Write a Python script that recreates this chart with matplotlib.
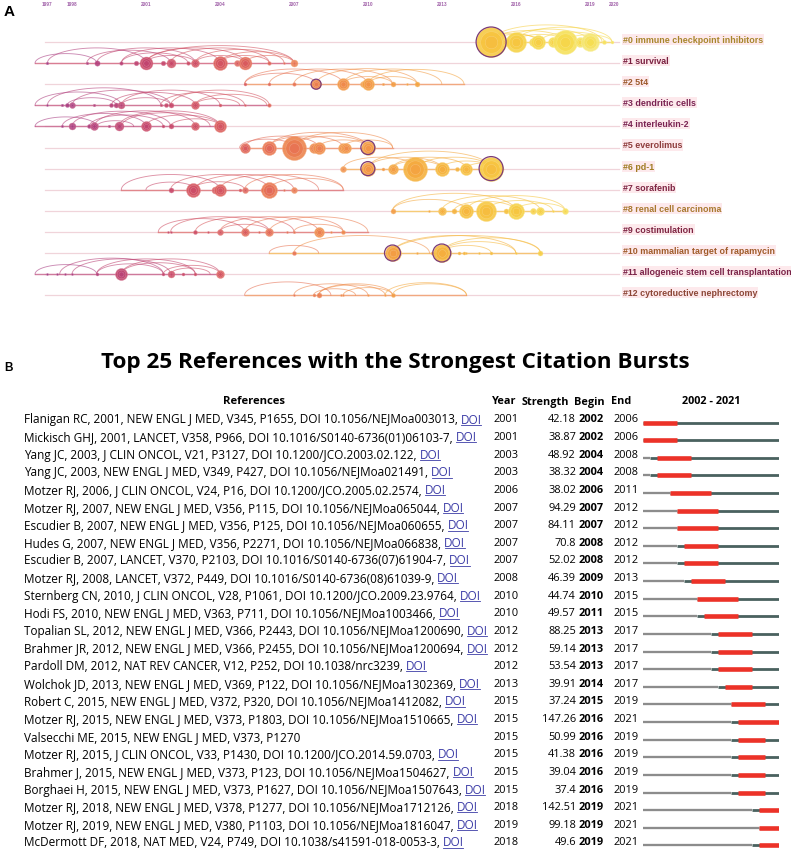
import numpy as np
import matplotlib
matplotlib.use("Agg")
import matplotlib.pyplot as plt
from matplotlib import font_manager
from matplotlib.colors import LinearSegmentedColormap, to_rgb

# ---------------- Panel A data ----------------
timeline_ticks = [1997, 1998, 2001, 2004, 2007, 2010, 2013, 2016, 2019, 2020]
cluster_labels = ["#0 immune checkpoint inhibitors", "#1 survival", "#2 5t4",
                  "#3 dendritic cells", "#4 interleukin-2", "#5 everolimus", "#6 pd-1",
                  "#7 sorafenib", "#8 renal cell carcinoma", "#9 costimulation",
                  "#10 mammalian target of rapamycin",
                  "#11 allogeneic stem cell transplantation",
                  "#12 cytoreductive nephrectomy"]
label_colors = ["#a8862c", "#7a2040", "#9c5a2c", "#7a2352", "#7a2352", "#8e3c3c",
                "#a07c22", "#7e2442", "#a8782e", "#7e2442", "#a05c2a", "#7a2348", "#8c4636"]

# nodes: (year position, radius in px)
c0_nodes = [(2015.0, 15), (2015.6, 4), (2016.0, 10), (2016.7, 4), (2016.9, 7), (2017.5, 5),
            (2018.0, 12), (2018.6, 5), (2019.0, 9), (2019.6, 2), (2019.9, 1.5)]
c1_nodes = [(1997.0, 1.3), (1998.6, 1.3), (1999.0, 2.7), (2000.0, 1.8), (2000.6, 2.3),
            (2001.0, 6.5), (2001.7, 2.3), (2002.0, 4.5), (2002.7, 1.8), (2003.0, 4.0),
            (2004.0, 7.0), (2004.7, 3.0), (2005.0, 6.5), (2006.0, 1.8), (2006.6, 1.0), (2007.0, 3.5)]
c2_nodes = [(2005.0, 1.5), (2006.0, 1.5), (2007.0, 1.8), (2007.9, 5.0), (2009.0, 6.0),
            (2009.8, 3.0), (2010.0, 6.0), (2010.6, 1.2), (2011.0, 2.5), (2011.6, 1.0), (2012.0, 2.5)]
c3_nodes = [(1997.0, 1.0), (1997.6, 1.3), (1997.8, 2.0), (1998.0, 3.0), (1998.9, 1.3),
            (1999.6, 2.0), (1999.8, 2.5), (2000.0, 3.5), (2001.6, 1.3), (2001.8, 2.0),
            (2002.0, 2.5), (2003.0, 4.0), (2004.0, 1.5), (2005.0, 1.0), (2006.0, 1.8)]
c4_nodes = [(1997.6, 1.2), (1998.0, 3.5), (1998.7, 2.0), (1998.9, 4.0), (1999.5, 1.3),
            (1999.9, 4.5), (2001.0, 5.0), (2001.7, 1.5), (2002.0, 2.5), (2003.0, 4.0), (2004.0, 6.0)]
c5_nodes = [(2005.0, 5.0), (2006.0, 7.0), (2007.0, 12.0), (2007.8, 5.0), (2008.0, 6.0),
            (2009.0, 5.0), (2009.1, 5.0), (2010.0, 7.0)]
c6_nodes = [(2009.0, 3.0), (2010.0, 7.0), (2010.6, 1.5), (2011.0, 5.0), (2011.9, 12.0),
            (2013.0, 7.0), (2013.6, 2.0), (2014.0, 6.0), (2015.0, 12.0)]
c7_nodes = [(2002.0, 2.5), (2002.9, 7.0), (2003.8, 3.5), (2004.0, 6.0), (2004.8, 1.5),
            (2005.0, 3.0), (2005.7, 1.5), (2006.0, 8.0), (2006.6, 1.0), (2007.0, 3.0)]
c8_nodes = [(2011.0, 2.5), (2012.5, 1.0), (2013.0, 4.0), (2013.5, 2.5), (2014.0, 7.0),
            (2014.8, 10.0), (2015.6, 2.5), (2016.0, 8.0), (2016.7, 3.0), (2017.0, 4.0),
            (2017.5, 1.0), (2018.0, 3.0)]
c9_nodes = [(2001.9, 1.0), (2002.0, 1.0), (2003.0, 2.0), (2003.5, 1.0), (2004.0, 3.0),
            (2005.0, 4.0), (2005.6, 1.0), (2006.0, 4.0), (2006.7, 1.0), (2007.0, 1.2),
            (2008.0, 5.0), (2008.5, 1.0), (2009.0, 2.0)]
c10_nodes = [(2007.0, 2.0), (2011.0, 8.0), (2012.0, 1.0), (2012.6, 1.5), (2013.0, 9.0),
             (2013.7, 1.5), (2013.9, 1.5), (2014.0, 1.0), (2014.5, 1.0), (2015.0, 1.5),
             (2016.0, 1.0), (2017.0, 2.5)]
c11_nodes = [(1997.0, 1.0), (1997.4, 1.0), (1997.7, 1.0), (1998.0, 1.0), (1999.0, 1.5),
             (2000.0, 6.0), (2001.7, 1.5), (2002.0, 3.5), (2002.5, 1.5), (2003.0, 1.5), (2004.0, 4.0)]
c12_nodes = [(2007.0, 1.0), (2007.8, 1.5), (2008.0, 2.5), (2008.9, 1.0), (2009.0, 1.0),
             (2010.0, 1.0), (2010.7, 1.0), (2011.0, 2.0)]

# nodes with high betweenness (purple ring): (cluster, year)
hub_nodes = [(0, 2015.0), (2, 2007.9), (5, 2010.0), (6, 2010.0), (6, 2015.0), (10, 2011.0), (10, 2013.0)]

# co-citation arcs: (from year, to year)
c0_arcs = [(2015.0, 2019.5), (2015.0, 2018.0), (2015.6, 2019.0), (2016.0, 2019.9), (2016.0, 2018.0),
           (2015.0, 2017.0), (2017.0, 2019.6), (2018.0, 2019.9), (2014.6, 2016.9)]
c1_arcs = [(1996.5, 1999.0), (1997.0, 2001.0), (1998.6, 2002.0), (1999.0, 2003.0), (2000.0, 2004.0),
           (2001.0, 2005.0), (2001.0, 2007.0), (2002.0, 2006.0), (2003.0, 2006.6), (2004.0, 2007.0),
           (2001.0, 2003.0), (2003.0, 2005.0), (2000.0, 2002.7), (2004.0, 2006.0), (2005.0, 2007.0)]
c2_arcs = [(2005.0, 2009.0), (2006.0, 2010.0), (2007.0, 2011.0), (2007.9, 2012.0), (2009.0, 2013.0),
           (2010.0, 2013.9), (2005.0, 2007.9), (2009.0, 2011.0), (2010.0, 2012.0)]
c3_arcs = [(1996.5, 2000.0), (1997.0, 2001.6), (1998.0, 2002.0), (1999.6, 2003.0), (2000.0, 2004.0),
           (2001.6, 2005.0), (2002.0, 2006.0), (2003.0, 2005.9), (1997.8, 1999.8), (2000.0, 2002.0),
           (2003.0, 2004.8)]
c4_arcs = [(1996.5, 1999.0), (1997.6, 2001.0), (1998.0, 2002.0), (1998.9, 2003.0), (1999.9, 2004.0),
           (2001.0, 2004.0), (1998.7, 2001.7), (2000.0, 2003.6), (1999.0, 2000.5), (2002.0, 2004.0)]
c5_arcs = [(2005.0, 2008.0), (2006.0, 2010.0), (2007.0, 2010.0), (2007.0, 2011.0), (2008.0, 2010.0),
           (2006.0, 2009.0), (2004.8, 2007.0), (2009.0, 2011.0)]
c6_arcs = [(2009.0, 2012.0), (2010.0, 2013.0), (2010.0, 2015.0), (2011.0, 2014.0), (2012.0, 2015.0),
           (2013.0, 2015.0), (2011.0, 2013.0), (2014.0, 2015.5)]
c7_arcs = [(2000.0, 2004.0), (2002.0, 2006.0), (2003.0, 2007.0), (2004.0, 2008.0), (2005.0, 2009.0),
           (2002.9, 2005.0), (2006.0, 2009.0), (2001.0, 2003.0)]
c8_arcs = [(2011.0, 2016.0), (2013.0, 2017.0), (2014.0, 2018.0), (2014.8, 2017.5), (2016.0, 2018.0),
           (2013.5, 2016.0), (2011.0, 2014.0)]
c9_arcs = [(2002.0, 2006.0), (2003.0, 2007.0), (2004.0, 2008.0), (2005.0, 2009.0), (2006.0, 2010.0),
           (2007.0, 2009.0), (2004.0, 2006.0), (2001.5, 2005.0)]
c10_arcs = [(2006.0, 2008.0), (2007.0, 2012.5), (2011.0, 2017.0), (2011.0, 2016.0), (2013.0, 2016.0),
            (2013.0, 2015.0), (2013.0, 2017.0)]
c11_arcs = [(1996.5, 1999.0), (1997.5, 2001.7), (1998.0, 2002.0), (1999.0, 2003.0), (2000.0, 2003.0),
            (2000.0, 2004.0), (1999.0, 2001.7), (2001.7, 2004.0), (2002.0, 2003.6)]
c12_arcs = [(2005.0, 2008.5), (2007.0, 2010.0), (2008.0, 2010.7), (2008.0, 2011.0), (2009.0, 2011.0),
            (2010.7, 2014.0), (2011.0, 2014.0), (2007.8, 2009.5)]

all_nodes = [c0_nodes, c1_nodes, c2_nodes, c3_nodes, c4_nodes, c5_nodes, c6_nodes,
             c7_nodes, c8_nodes, c9_nodes, c10_nodes, c11_nodes, c12_nodes]
all_arcs = [c0_arcs, c1_arcs, c2_arcs, c3_arcs, c4_arcs, c5_arcs, c6_arcs,
            c7_arcs, c8_arcs, c9_arcs, c10_arcs, c11_arcs, c12_arcs]

# ---------------- Panel B data ----------------
refs = [
    "Flanigan RC, 2001, NEW ENGL J MED, V345, P1655, DOI 10.1056/NEJMoa003013",
    "Mickisch GHJ, 2001, LANCET, V358, P966, DOI 10.1016/S0140-6736(01)06103-7",
    "Yang JC, 2003, J CLIN ONCOL, V21, P3127, DOI 10.1200/JCO.2003.02.122",
    "Yang JC, 2003, NEW ENGL J MED, V349, P427, DOI 10.1056/NEJMoa021491",
    "Motzer RJ, 2006, J CLIN ONCOL, V24, P16, DOI 10.1200/JCO.2005.02.2574",
    "Motzer RJ, 2007, NEW ENGL J MED, V356, P115, DOI 10.1056/NEJMoa065044",
    "Escudier B, 2007, NEW ENGL J MED, V356, P125, DOI 10.1056/NEJMoa060655",
    "Hudes G, 2007, NEW ENGL J MED, V356, P2271, DOI 10.1056/NEJMoa066838",
    "Escudier B, 2007, LANCET, V370, P2103, DOI 10.1016/S0140-6736(07)61904-7",
    "Motzer RJ, 2008, LANCET, V372, P449, DOI 10.1016/S0140-6736(08)61039-9",
    "Sternberg CN, 2010, J CLIN ONCOL, V28, P1061, DOI 10.1200/JCO.2009.23.9764",
    "Hodi FS, 2010, NEW ENGL J MED, V363, P711, DOI 10.1056/NEJMoa1003466",
    "Topalian SL, 2012, NEW ENGL J MED, V366, P2443, DOI 10.1056/NEJMoa1200690",
    "Brahmer JR, 2012, NEW ENGL J MED, V366, P2455, DOI 10.1056/NEJMoa1200694",
    "Pardoll DM, 2012, NAT REV CANCER, V12, P252, DOI 10.1038/nrc3239",
    "Wolchok JD, 2013, NEW ENGL J MED, V369, P122, DOI 10.1056/NEJMoa1302369",
    "Robert C, 2015, NEW ENGL J MED, V372, P320, DOI 10.1056/NEJMoa1412082",
    "Motzer RJ, 2015, NEW ENGL J MED, V373, P1803, DOI 10.1056/NEJMoa1510665",
    "Valsecchi ME, 2015, NEW ENGL J MED, V373, P1270",
    "Motzer RJ, 2015, J CLIN ONCOL, V33, P1430, DOI 10.1200/JCO.2014.59.0703",
    "Brahmer J, 2015, NEW ENGL J MED, V373, P123, DOI 10.1056/NEJMoa1504627",
    "Borghaei H, 2015, NEW ENGL J MED, V373, P1627, DOI 10.1056/NEJMoa1507643",
    "Motzer RJ, 2018, NEW ENGL J MED, V378, P1277, DOI 10.1056/NEJMoa1712126",
    "Motzer RJ, 2019, NEW ENGL J MED, V380, P1103, DOI 10.1056/NEJMoa1816047",
    "McDermott DF, 2018, NAT MED, V24, P749, DOI 10.1038/s41591-018-0053-3",
]
has_doi = [True] * 18 + [False] + [True] * 6
ref_years = [2001, 2001, 2003, 2003, 2006, 2007, 2007, 2007, 2007, 2008, 2010, 2010, 2012,
             2012, 2012, 2013, 2015, 2015, 2015, 2015, 2015, 2015, 2018, 2019, 2018]
strengths = ["42.18", "38.87", "48.92", "38.32", "38.02", "94.29", "84.11", "70.8", "52.02",
             "46.39", "44.74", "49.57", "88.25", "59.14", "53.54", "39.91", "37.24", "147.26",
             "50.99", "41.38", "39.04", "37.4", "142.51", "99.18", "49.6"]
begins = [2002, 2002, 2004, 2004, 2006, 2007, 2007, 2008, 2008, 2009, 2010, 2011, 2013,
          2013, 2013, 2014, 2015, 2016, 2016, 2016, 2016, 2016, 2019, 2019, 2019]
ends = [2006, 2006, 2008, 2008, 2011, 2012, 2012, 2012, 2012, 2013, 2015, 2015, 2017,
        2017, 2017, 2017, 2019, 2021, 2019, 2019, 2019, 2019, 2021, 2021, 2021]
period_start, period_end = 2002, 2021

# ---------------- figure ----------------
W, H = 791, 853
fig = plt.figure(figsize=(W / 100, H / 100), dpi=100)
fig.patch.set_facecolor("white")

installed = {f.name for f in font_manager.fontManager.ttflist}
TITLE_FONT = "Liberation Sans Narrow" if "Liberation Sans Narrow" in installed else "Open Sans"

cmap = LinearSegmentedColormap.from_list("cs", [
    (0.00, "#9a3a8a"), (0.12, "#b3407c"), (0.24, "#c8486a"), (0.36, "#d95a5e"),
    (0.44, "#e87454"), (0.56, "#f29448"), (0.68, "#f5ae3e"), (0.80, "#f7c640"),
    (0.92, "#f6de50"), (1.00, "#f5ea80")])
Y0, Y1 = 1996.0, 2021.0


def ycol(y):
    return cmap(np.clip((y - Y0) / (Y1 - Y0), 0, 1))


def lighten(c, f):
    r, g, b = to_rgb(c)
    return (r + (1 - r) * f, g + (1 - g) * f, b + (1 - b) * f)


A_top, A_bot = 0, 320
axA = fig.add_axes([0, 1 - A_bot / H, 1, (A_bot - A_top) / H])
px_per_year = 24.65
x2001 = 146.0
axA.set_xlim(2001 - x2001 / px_per_year, 2001 + (W - x2001) / px_per_year)
row_px0, row_h = 43.0, 21.1
axA.set_ylim((A_bot - row_px0) / row_h, (A_top - row_px0) / row_h)
axA.axis("off")
unit_px = row_h

PT = 72 / 100.0

for ci, (nodes, arcs) in enumerate(zip(all_nodes, all_arcs)):
    ny = [n[0] for n in nodes]
    ax_ = [a[0] for a in arcs] + [a[1] for a in arcs]
    lo, hi = min(ny + ax_), max(ny + ax_)
    axA.plot([1996.9, 2020.2], [ci, ci], color="#f0d4da", lw=0.9, zorder=1)
    mid = np.mean(ny)
    axA.plot([lo, hi], [ci, ci], color=lighten(ycol(mid), 0.2), lw=1.0, alpha=0.85, zorder=2)
    for (a, b) in arcs:
        span = b - a
        hpx = min(3.8 * span, 17.5)
        t = np.linspace(0, np.pi, 60)
        xs = a + span * (1 - np.cos(t)) / 2
        ys = ci - (hpx / unit_px) * np.sin(t)
        axA.plot(xs, ys, color=ycol((a + b) / 2), lw=0.65, alpha=0.6, zorder=3)
    for (yr, r) in nodes:
        is_hub = (ci, yr) in hub_nodes
        layers = [(1.0, ycol(yr + 1.5)), (0.72, ycol(yr + 0.7)), (0.42, ycol(yr))]
        if r < 3:
            layers = [(1.0, ycol(yr))]
        for f, col in layers:
            axA.scatter([yr], [ci], s=(2 * r * f * PT) ** 2, color=col, alpha=0.9,
                        edgecolors=lighten(col, 0.35), linewidths=0.3, zorder=5)
        if is_hub:
            axA.scatter([yr], [ci], s=(2 * r * PT) ** 2, facecolors="none",
                        edgecolors="#7a3a78", linewidths=0.9, zorder=6)
    axA.text(2020.35, ci - 0.12, cluster_labels[ci], fontsize=6.4, fontweight="bold",
             family="Liberation Sans", color=label_colors[ci], va="center", ha="left",
             bbox=dict(boxstyle="square,pad=0.12", fc="#fde6e9", ec="none", alpha=0.85), zorder=7)

for yr in timeline_ticks:
    axA.text(yr, (5 - row_px0) / row_h, str(yr), fontsize=3.4, fontweight="bold",
             color="#a060a8", ha="center", va="center", family="Liberation Sans")

fig.text(4 / W, 1 - 12 / H, "A", fontsize=11, fontweight="bold", family="Liberation Sans",
         ha="left", va="center")

# ---------------- Panel B ----------------
axT = fig.add_axes([0, 0, 1, 1])
axT.set_xlim(0, W)
axT.set_ylim(H, 0)
axT.axis("off")

TF = "Open Sans"
row_y0, row_step = 420.0, 17.62

fig.text(4 / W, 1 - 368 / H, "B", fontsize=8.5, fontweight="bold", family="Liberation Sans",
         ha="left", va="center")
title = axT.text(395, 362, "Top 25 References with the Strongest Citation Bursts",
                 fontsize=14, fontweight="bold", family=[TITLE_FONT, "Open Sans"],
                 ha="center", va="center")

fs = 8.45      # reference text
fn = 7.9       # numeric columns
fh = 7.8       # header
hdr_y = 402
axT.text(254, hdr_y, "References", fontsize=fh + 0.3, fontweight="bold", family=TF, ha="center", va="center")
axT.text(492, hdr_y, "Year", fontsize=fh, fontweight="bold", family=TF, ha="left", va="center")
axT.text(521.5, hdr_y, "Strength", fontsize=fh, fontweight="bold", family=TF, ha="left", va="center")
axT.text(574, hdr_y, "Begin", fontsize=fh, fontweight="bold", family=TF, ha="left", va="center")
axT.text(611, hdr_y, "End", fontsize=fh, fontweight="bold", family=TF, ha="left", va="center")
axT.text(711, hdr_y, f"{period_start} - {period_end}", fontsize=fh, fontweight="bold",
         family=TF, ha="center", va="center")

fig.canvas.draw()
rend = fig.canvas.get_renderer()
bb = title.get_window_extent(rend)
title.set_fontsize(14 * 590.0 / bb.width)

main_texts = []
for i, ref in enumerate(refs):
    y = row_y0 + row_step * i
    s = ref + (", " if has_doi[i] else "")
    t = axT.text(24, y, s, fontsize=fs, family=TF, ha="left", va="center")
    main_texts.append(t)
    axT.text(494, y, str(ref_years[i]), fontsize=fn, family=TF, ha="left", va="center")
    axT.text(576, y, strengths[i], fontsize=fn, family=TF, ha="right", va="center")
    axT.text(578.5, y, str(begins[i]), fontsize=fn, fontweight="bold", family=TF, ha="left", va="center")
    axT.text(614, y, str(ends[i]), fontsize=fn, family=TF, ha="left", va="center")

fig.canvas.draw()
rend = fig.canvas.get_renderer()
for i, t in enumerate(main_texts):
    if not has_doi[i]:
        continue
    y = row_y0 + row_step * i
    bbm = t.get_window_extent(rend)
    d = axT.text(bbm.x1, y, "DOI", fontsize=fs, family=TF, ha="left", va="center", color="#3b3ba6")
    bbd = d.get_window_extent(rend)
    axT.plot([bbd.x0 + 0.5, bbd.x1 - 0.5], [y + 5.8, y + 5.8], color="#3b3ba6", lw=0.6)

bar_x0, bar_x1 = 643, 779
axB = fig.add_axes([bar_x0 / W, 0, (bar_x1 - bar_x0) / W, 1])
axB.set_xlim(period_start, period_end + 1)
bar_dy = 3.5
axB.set_ylim((H - row_y0 - bar_dy) / row_step, (0 - row_y0 - bar_dy) / row_step)
axB.axis("off")
for i in range(len(refs)):
    yr = ref_years[i]
    if yr > period_start:
        axB.hlines(i, period_start, yr, color="#8c8c8c", lw=2.3 * PT, capstyle="butt")
    axB.hlines(i, max(yr, period_start), period_end + 1, color="#4a625f", lw=2.8 * PT,
               capstyle="butt")
    axB.hlines(i, begins[i], ends[i] + 1, color="#ec3228", lw=4.6 * PT, capstyle="butt")

fig.savefig("out.png", dpi=100, facecolor="white")
